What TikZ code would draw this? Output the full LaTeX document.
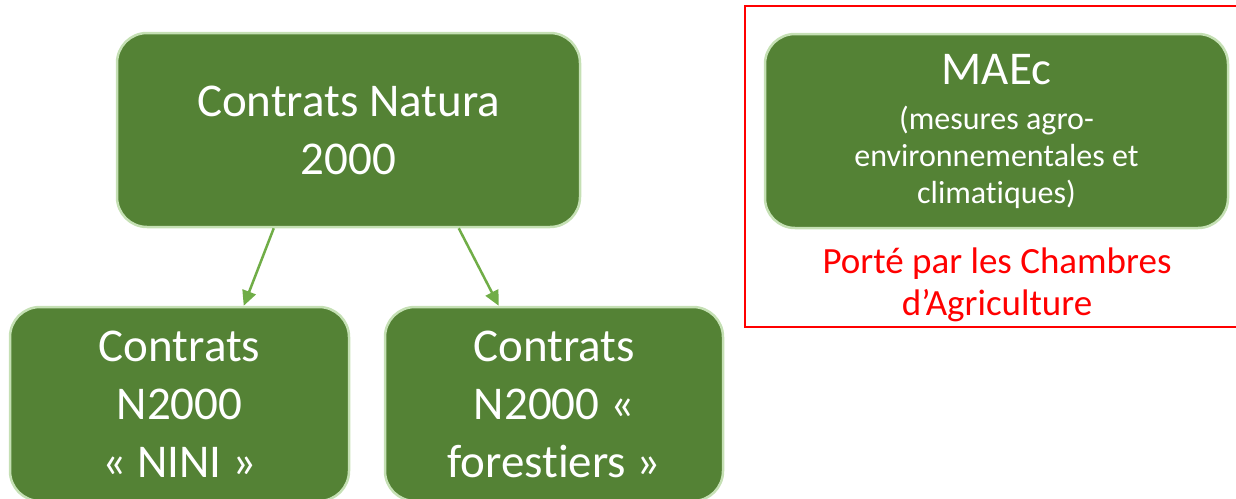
\documentclass[tikz,border=0pt]{standalone}
\usepackage{fontspec}
\setmainfont{Carlito}[Ligatures=CommonOff]
\usetikzlibrary{arrows.meta,calc}

\definecolor{boxgreen}{HTML}{548235}
\definecolor{edgegreen}{HTML}{C5E0B4}
\definecolor{arrowgreen}{HTML}{70AD47}

\begin{document}
\begin{tikzpicture}[x=1pt, y=-1pt,
    gbox/.style={draw=edgegreen, line width=2.5pt, fill=boxgreen, text=white,
                 rounded corners=30pt, align=center, inner sep=0pt,
                 minimum height=194pt},
    bigtxt/.style={font=\fontsize{47}{58}\selectfont},
    link/.style={arrowgreen, line width=2.5pt, -{Triangle[length=15pt,width=14pt]}}]
        % Frame of the page
        \useasboundingbox (0,0) rectangle (1236,498);

        % Natura 2000 boxes
        \node[gbox, bigtxt, minimum width=463pt] (natura) at (348.5,130)
            {Contrats Natura\\2000};
        \node[gbox, bigtxt, minimum width=339pt] (nini) at (179.5,404)
            {Contrats\\N2000\\« NINI »};
        \node[gbox, bigtxt, minimum width=338pt] (foret) at (554,404)
            {Contrats\\N2000 «\\forestiers »};

        % Arrows
        \draw[link] ($(natura.south west)+(158,0)$) -- ($(nini.north west)+(235,0)$);
        \draw[link] ($(natura.south west)+(343,0)$) -- ($(foret.north west)+(115,0)$);

        % MAEc, in the red frame
        \draw[red, line width=2pt] (1240,6) -- (745,6) -- (745,327) -- (1240,327);
        \node[gbox, minimum width=463pt, font=\fontsize{32}{37}\selectfont] (maec) at (996.5,131)
            {{\fontsize{47}{47}\selectfont MAEc}\\[8pt](mesures agro-\\environnementales et\\climatiques)};
        \node[red, align=center, font=\fontsize{37}{42}\selectfont] (chambres) at (997,285)
            {Porté par les Chambres\\d’Agriculture};
\end{tikzpicture}
\end{document}
